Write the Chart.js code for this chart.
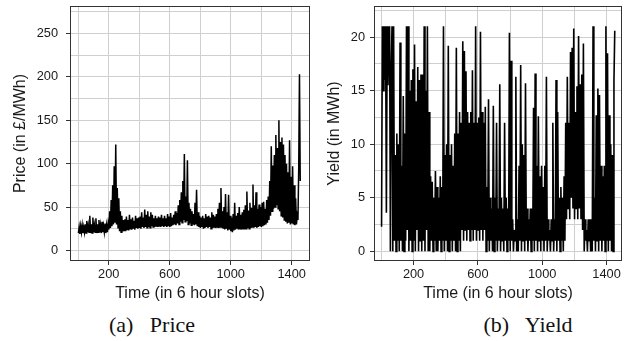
<!DOCTYPE html>
<html>
<head>
<meta charset="utf-8">
<script src="https://cdn.jsdelivr.net/npm/chart.js@4"></script>
<style>
  body { margin: 0; background: #fff; }
  #wrap { position: relative; width: 635px; height: 341px; overflow: hidden; }
  canvas { position: absolute; top: 0; }
  #c1 { left: 0; }
  #c2 { left: 318px; }
  .cap { position: absolute; top: 312px; font-family: 'Liberation Serif', 'Times New Roman', serif; font-size: 22px; color: #111; white-space: pre; transform: translateX(-50%); }
</style>
</head>
<body>
<div id="wrap">
  <canvas id="c1" width="318" height="310"></canvas>
  <canvas id="c2" width="317" height="310"></canvas>
  <div class="cap" style="left:152px">(a)   Price</div>
  <div class="cap" style="left:528px">(b)   Yield</div>
</div>
<script>
// series, one value every 5 six-hour slots
const price = [
  20,27,19,28,21,29,20,27,21,30,
  20,34,21,29,21,40,20,30,20,38,
  21,29,21,37,20,30,21,35,21,29,
  20,33,21,28,21,31,20,29,21,31,
  24,45,26,58,28,75,30,97,32,122,
  30,72,26,60,22,45,21,40,22,35,
  23,36,22,39,24,35,23,41,25,36,
  24,38,25,34,24,40,26,37,25,38,
  26,39,25,44,27,38,26,47,27,41,
  26,45,27,39,26,44,28,41,27,37,
  27,40,28,37,27,39,28,38,27,41,
  28,37,27,40,28,37,27,42,28,39,
  27,43,28,38,29,41,30,45,29,43,
  31,52,30,58,33,67,32,80,35,111,
  33,62,34,104,30,55,31,48,29,45,
  30,42,29,55,30,70,28,44,27,40,
  26,38,27,40,25,37,26,42,27,39,
  26,40,27,38,25,44,26,41,27,39,
  26,42,27,48,26,55,27,72,26,45,
  25,50,24,65,25,44,23,64,24,40,
  22,38,21,42,23,55,24,40,25,43,
  24,50,25,41,24,44,25,47,24,52,
  25,68,26,46,25,55,26,49,27,76,
  26,52,27,67,26,48,27,53,28,50,
  27,55,28,56,29,48,30,58,32,62,
  35,80,40,120,45,98,48,110,50,133,
  52,118,48,150,45,125,40,130,38,122,
  35,110,33,100,31,90,32,127,30,85,
  31,97,30,75,29,60,30,40,35,95,
  203,80
];

const yieldMWh = [
  2.3,21,15,21,16,21,3.6,21,15.5,20,
  21,0,17,21,0,21,1,9,0,11,
  1,10,0,19.5,1,8,0,14.5,0,11,
  1,21,2,21,0,15,1,16,0,17,
  1,19.3,0,14,2,17.2,0,16,1,16.5,
  0,16.5,1,21,0,15,2,21,0,13,
  0,7,1,6.5,0,5,1,7.5,0,6,
  0,5,1,7,0,6,1,21,0,9,
  1,10,0,19.2,0,9,1,10,0,8,
  1,11,0,19,0,11,1,13,0,12,
  2,19.6,1,18.7,2,16.8,1,13,2,12,
  1,13,2,16.9,1,12,2,21,1,12,
  2,12.5,1,20.5,2,13,1,12,2,13.5,
  0,6,1,14.2,0,5,1,4,0,13.6,
  0,5,1,12,0,4,1,15.6,0,5,
  1,4,0,12,1,5,0,4,1,20.4,
  0,17.8,1,3,0,2,1,16.3,0,3,
  0,8,1,17.4,0,10,1,9,0,15.7,
  1,4,0,3,1,4,0,4,1,13.4,
  0,16.6,1,8,0,12.6,1,7,0,8,
  1,6,0,8,1,16.3,0,3,1,2,
  0,3,1,12,0,3,1,16,0,13,
  1,5,0,6,1,5,0,7,1,12,
  3,16.3,4,12,3,18.6,5,19,4,20.8,
  3,13,4,15.4,3,20.1,4,15.6,3,16.5,
  2,19.4,0,3,1,2,0,3,1,3,
  0,3,0,21,1,5,0,12.7,1,15.2,
  0,14.6,1,8,0,7,1,8,0,21,
  1,18.5,0,12.7,1,10,0,9,0,15.9,20.6
];

const priceSlots = price.map((_, i) => 1 + 5 * i);
const yieldSlots = yieldMWh.map((_, i) => 1 + 5 * i);

// grid lines (major + minor) and the ones that carry a label
const timeGrid = [0, 200, 400, 600, 800, 1000, 1200, 1400];
const timeTickLabels = [200, 600, 1000, 1400];
const priceGrid = [0, 25, 50, 75, 100, 125, 150, 175, 200, 225, 250, 275];
const priceTickLabels = [0, 50, 100, 150, 200, 250];
const yieldGrid = [0, 2.5, 5, 7.5, 10, 12.5, 15, 17.5, 20, 22.5];
const yieldTickLabels = [0, 5, 10, 15, 20];

Chart.defaults.font.family = "'Liberation Sans', Arial, sans-serif";
Chart.defaults.color = '#1a1a1a';

const panelBox = {
  id: 'panelBox',
  afterDraw(chart) {
    const a = chart.chartArea;
    const ctx = chart.ctx;
    ctx.save();
    ctx.strokeStyle = '#333';
    ctx.lineWidth = 1;
    ctx.strokeRect(Math.round(a.left) + 0.5, Math.round(a.top) + 0.5,
      Math.round(a.right - a.left) - 1, Math.round(a.bottom - a.top) - 1);
    ctx.restore();
  }
};

function makePanel(id, p) {
  const pts = p.xs.map((x, i) => ({ x: x, y: p.ys[i] }));
  return new Chart(document.getElementById(id), {
    type: 'line',
    data: {
      datasets: [{
        data: pts,
        borderColor: '#000',
        borderWidth: p.lineW,
        pointRadius: 0,
        tension: 0,
        fill: false
      }]
    },
    plugins: [panelBox],
    options: {
      responsive: false,
      animation: false,
      devicePixelRatio: 1,
      layout: { padding: { top: 6, right: p.padRight, left: 0, bottom: 0 } },
      plugins: { legend: { display: false }, tooltip: { enabled: false } },
      scales: {
        x: {
          type: 'linear',
          min: p.xMin, max: p.xMax,
          afterBuildTicks: s => { s.ticks = timeGrid.map(v => ({ value: v })); },
          afterFit: s => { s.height = 49; s.paddingLeft = 0; s.paddingRight = 0; },
          border: { display: false },
          grid: {
            color: '#cfcfcf',
            tickLength: 4,
            tickColor: c => (c.tick && timeTickLabels.includes(c.tick.value)) ? '#333' : 'rgba(0,0,0,0)'
          },
          ticks: {
            autoSkip: false,
            maxRotation: 0,
            padding: 2,
            font: { size: 12.8 },
            callback: v => timeTickLabels.includes(v) ? String(v) : ''
          },
          title: {
            display: true,
            text: 'Time (in 6 hour slots)',
            font: { size: 16 },
            padding: { top: 0, bottom: 6.4 }
          }
        },
        y: {
          min: p.yMin, max: p.yMax,
          afterBuildTicks: s => { s.ticks = p.yGrid.map(v => ({ value: v })); },
          afterFit: s => { s.width = p.yWidth; s.paddingTop = 0; s.paddingBottom = 0; },
          border: { display: false },
          grid: {
            color: '#cfcfcf',
            tickLength: 4,
            tickColor: c => (c.tick && p.yLabels.includes(c.tick.value)) ? '#333' : 'rgba(0,0,0,0)'
          },
          ticks: {
            autoSkip: false,
            padding: p.yTickPad,
            font: { size: 12.8 },
            callback: v => p.yLabels.includes(v) ? String(v) : ''
          },
          title: {
            display: true,
            text: p.yTitle,
            font: { size: 16 },
            padding: { top: p.yTitlePad, bottom: 0 }
          }
        }
      }
    }
  });
}

makePanel('c1', {
  xs: priceSlots, ys: price, lineW: 1.5,
  xMin: -54, xMax: 1520,
  yMin: -12.2, yMax: 281.7,
  yGrid: priceGrid, yLabels: priceTickLabels,
  yTitle: 'Price (in £/MWh)',
  yWidth: 70, yTickPad: 8, yTitlePad: 11.4,
  padRight: 8
});

makePanel('c2', {
  xs: yieldSlots, ys: yieldMWh, lineW: 1.6,
  xMin: -46, xMax: 1496,
  yMin: -0.9, yMax: 22.9,
  yGrid: yieldGrid, yLabels: yieldTickLabels,
  yTitle: 'Yield (in MWh)',
  yWidth: 56, yTickPad: 5, yTitlePad: 7.4,
  padRight: 13
});
</script>
</body>
</html>
